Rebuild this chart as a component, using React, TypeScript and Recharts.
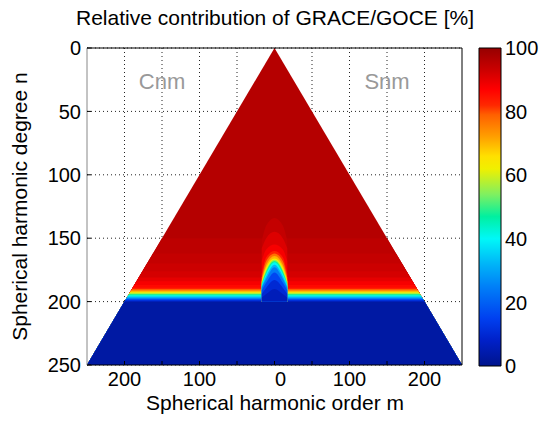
import {
  Area,
  Bar,
  BarChart,
  CartesianGrid,
  ComposedChart,
  ReferenceDot,
  ReferenceLine,
  XAxis,
  YAxis,
} from 'recharts'

const FONT = '"Liberation Sans", Arial, Helvetica, sans-serif'

// Triangle outside the near-zonal column: start degree of each band and its contribution [%]
const outerDegrees = [0, 150, 162, 170, 176, 181, 184, 187, 189, 190, 191, 192, 193, 194, 195, 196, 197, 198, 199, 200]
const outerValues = [96, 95, 94, 93, 92, 90, 88, 86, 83, 79, 73, 65, 57, 49, 41, 33, 25, 17, 10, 3]

// Near-zonal column |m| <= 17: band top at m = 0, at |m| = 11 and at the column edge
const columnOrders = [17, 11, 0]
const columnCenter = [134, 145, 155, 160, 162, 164, 166, 167, 168, 169, 171, 173, 177, 183, 190]
const columnMid = [140, 150, 159, 165, 168, 171, 173, 175, 176, 178, 180, 182, 185, 189, 194]
const columnEdge = [152, 158, 168, 178, 181, 183, 184, 185, 186, 187, 188, 189, 191, 194, 197]
const columnValues = [94, 91, 88, 83, 77, 70, 62, 55, 48, 40, 32, 24, 16, 10, 6]
const columnEnd = 200

const maxDegree = 250
const orderTicks = [-200, -150, -100, -50, 0, 50, 100, 150, 200]
const degreeTicks = [0, 50, 100, 150, 200, 250]
const colorbarTicks = [0, 20, 40, 60, 80, 100]
const colorbarMinorTicks = [0, 10, 20, 30, 40, 50, 60, 70, 80, 90, 100]

const sectorLabels = ['Cnm', 'Snm']
const sectorOrders = [-150, 150]
const sectorDegree = 26

// colour map
const cmapStops = [0, 8, 15, 25, 32, 40, 47, 54, 62, 66, 72, 79, 82, 87, 93, 100]
const cmapColors = [
  '#00148c', '#0020c8', '#0040f0', '#0080f8', '#00b4f8', '#00f8f8', '#00f0a0', '#80f060',
  '#f0f000', '#ffe000', '#ffa000', '#ff6000', '#ff2800', '#ff0000', '#cc0000', '#960000',
]

function hexToRgb(hex: string) {
  return [1, 3, 5].map((i) => parseInt(hex.slice(i, i + 2), 16))
}

function colorFor(value: number) {
  let i = 0
  while (i < cmapStops.length - 2 && value > cmapStops[i + 1]) i++
  const t = Math.min(1, Math.max(0, (value - cmapStops[i]) / (cmapStops[i + 1] - cmapStops[i])))
  const a = hexToRgb(cmapColors[i])
  const b = hexToRgb(cmapColors[i + 1])
  const c = a.map((v, k) => Math.round(v + (b[k] - v) * t))
  return `rgb(${c[0]},${c[1]},${c[2]})`
}

type Row = { m: number; [key: string]: number | [number, number] }

const rowMap = new Map<number, Row>()
function put(m: number, key: string, range: [number, number]) {
  if (!rowMap.has(m)) rowMap.set(m, { m })
  rowMap.get(m)![key] = range
}

outerDegrees.forEach((a, i) => {
  const key = `o${i}`
  put(-maxDegree, key, [maxDegree, maxDegree])
  put(-a, key, [a, maxDegree])
  put(a, key, [a, maxDegree])
  put(maxDegree, key, [maxDegree, maxDegree])
})

columnValues.forEach((_, i) => {
  const key = `c${i}`
  const tops = [columnEdge[i], columnMid[i], columnCenter[i]]
  columnOrders.forEach((m, k) => {
    put(-m, key, [tops[k], columnEnd])
    put(m, key, [tops[k], columnEnd])
  })
})

const chartData = Array.from(rowMap.values()).sort((p, q) => p.m - q.m)
const colorbarData = [{ name: 'cb', value: 100 }]

const tickStyle = { fill: '#000', fontSize: 20, fontFamily: FONT }

function OrderTick(props: any) {
  const { x, y, payload } = props
  const v = payload.value as number
  const label = v % 100 === 0 ? String(Math.abs(v)) : ''
  return (
    <text x={x + (v === 0 ? 6 : 0)} y={y} dy="0.71em" textAnchor="middle" {...tickStyle}>
      {label}
    </text>
  )
}

export default function App() {
  return (
    <div style={{ position: 'absolute', left: 0, top: 0, width: 540, height: 422, background: '#fff', fontFamily: FONT }}>
      <div
        style={{ position: 'absolute', left: 10, top: 7, width: 530, textAlign: 'center', fontSize: 21, lineHeight: '21px', color: '#000' }}
      >
        Relative contribution of GRACE/GOCE [%]
      </div>
      <div
        style={{ position: 'absolute', left: 10, top: 392, width: 530, textAlign: 'center', fontSize: 21, lineHeight: '21px', color: '#000' }}
      >
        Spherical harmonic order m
      </div>
      <div
        style={{
          position: 'absolute',
          left: 19 - 200,
          top: 206 - 10.5,
          width: 400,
          height: 21,
          textAlign: 'center',
          fontSize: 21,
          lineHeight: '21px',
          color: '#000',
          transform: 'rotate(-90deg)',
        }}
      >
        Spherical harmonic degree n
      </div>

      <div style={{ position: 'absolute', left: 0, top: 0 }}>
        <ComposedChart width={540} height={422} data={chartData} margin={{ top: 48, right: 78, bottom: 0, left: 0 }}>
          <CartesianGrid stroke="#222" strokeDasharray="1 3" horizontalValues={degreeTicks} verticalValues={orderTicks} />
          <XAxis
            dataKey="m"
            type="number"
            domain={[-maxDegree, maxDegree]}
            allowDataOverflow
            ticks={orderTicks}
            interval={0}
            height={57}
            axisLine={{ stroke: '#000' }}
            tickLine={{ stroke: '#000' }}
            tickSize={-4}
            tickMargin={11}
            tick={<OrderTick />}
          />
          <YAxis
            type="number"
            reversed
            domain={[0, maxDegree]}
            allowDataOverflow
            ticks={degreeTicks}
            interval={0}
            width={87}
            axisLine={{ stroke: '#888' }}
            tickLine={{ stroke: '#000' }}
            tickSize={-4}
            tickMargin={10}
            tick={tickStyle}
          />
          {outerValues.map((v, i) => (
            <Area
              key={`o${i}`}
              type="linear"
              dataKey={`o${i}`}
              fill={colorFor(v)}
              fillOpacity={1}
              stroke="none"
              connectNulls
              dot={false}
              activeDot={false}
              isAnimationActive={false}
            />
          ))}
          {columnValues.map((v, i) => (
            <Area
              key={`c${i}`}
              type="monotone"
              dataKey={`c${i}`}
              fill={colorFor(v)}
              fillOpacity={1}
              stroke="none"
              connectNulls
              dot={false}
              activeDot={false}
              isAnimationActive={false}
            />
          ))}
          <ReferenceLine y={0} stroke="#000" />
          <ReferenceLine x={maxDegree} stroke="#000" />
          {sectorLabels.map((label, i) => (
            <ReferenceDot
              key={label}
              x={sectorOrders[i]}
              y={sectorDegree}
              r={0}
              fill="none"
              stroke="none"
              label={{ value: label, position: 'center', fill: '#999', fontSize: 22, fontFamily: FONT }}
            />
          ))}
        </ComposedChart>
      </div>

      <div style={{ position: 'absolute', left: 0, top: 0 }}>
        <BarChart
          width={540}
          height={422}
          data={colorbarData}
          margin={{ top: 48, right: 0, bottom: 56, left: 479 }}
          barCategoryGap={0}
        >
          <defs>
            <linearGradient id="cbGrad" x1="0" y1="1" x2="0" y2="0">
              {cmapStops.map((s, i) => (
                <stop key={s} offset={`${s}%`} stopColor={cmapColors[i]} />
              ))}
            </linearGradient>
          </defs>
          <XAxis dataKey="name" hide />
          <YAxis
            yAxisId="minor"
            orientation="left"
            width={0}
            domain={[0, 100]}
            ticks={colorbarMinorTicks}
            interval={0}
            axisLine={false}
            tickLine={{ stroke: '#000' }}
            tickSize={-4}
            tick={false}
          />
          <YAxis
            yAxisId="cb"
            orientation="right"
            width={39}
            domain={[0, 100]}
            ticks={colorbarTicks}
            interval={0}
            axisLine={false}
            tickLine={false}
            tickSize={0}
            tickMargin={4}
            tick={{ ...tickStyle, textAnchor: 'start' }}
          />
          <Bar yAxisId="cb" dataKey="value" fill="url(#cbGrad)" stroke="#000" strokeWidth={1} isAnimationActive={false} />
        </BarChart>
      </div>
    </div>
  )
}
